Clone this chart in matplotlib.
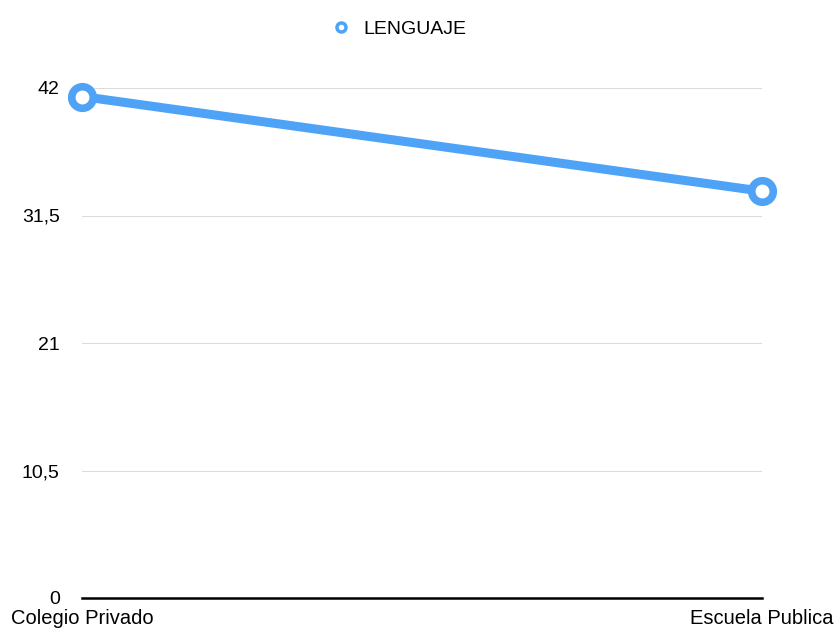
import matplotlib.pyplot as plt
from matplotlib.lines import Line2D

plt.rcParams['font.family'] = ['Liberation Sans', 'DejaVu Sans']

escuelas = ["Colegio Privado", "Escuela Publica"]
lenguaje = [41.3, 33.5]
y_ticks = [0, 10.5, 21, 31.5, 42]
y_labels = ["0", "10,5", "21", "31,5", "42"]

azul = "#4fa3f7"

fig = plt.figure(figsize=(8.39, 6.28), dpi=100)
ax = fig.add_axes([82 / 839, 30 / 628, 680 / 839, 510 / 628])

x = range(len(escuelas))
ax.plot(x, lenguaje, color=azul, lw=6.5, marker="o", ms=15.5,
        mfc="white", mec=azul, mew=5.5, clip_on=False, zorder=5,
        solid_capstyle="butt")

ax.set_xlim(0, 1)
ax.set_ylim(0, 42)
ax.set_yticks(y_ticks)
ax.set_yticklabels(y_labels, fontsize=14)
ax.set_xticks(list(x))
ax.set_xticklabels(escuelas, fontsize=14.5)

ax.grid(axis="y", color="#dcdcdc", lw=0.8)
ax.set_axisbelow(True)
for lado in ["top", "right", "left"]:
    ax.spines[lado].set_visible(False)
ax.spines["bottom"].set_color("black")
ax.spines["bottom"].set_linewidth(1.8)
ax.spines["bottom"].set_zorder(6)
ax.tick_params(length=0)
ax.tick_params(axis="y", pad=16)
ax.tick_params(axis="x", pad=8)

handle = Line2D([], [], color=azul, lw=0, marker="o", ms=6.5,
                mfc="white", mec=azul, mew=2.5)
fig.legend([handle], ["LENGUAJE"], loc="upper center",
           bbox_to_anchor=(0.473, 0.995), frameon=False, fontsize=14,
           handletextpad=0.4, handlelength=1.5)

fig.savefig("out.png", dpi=100)
